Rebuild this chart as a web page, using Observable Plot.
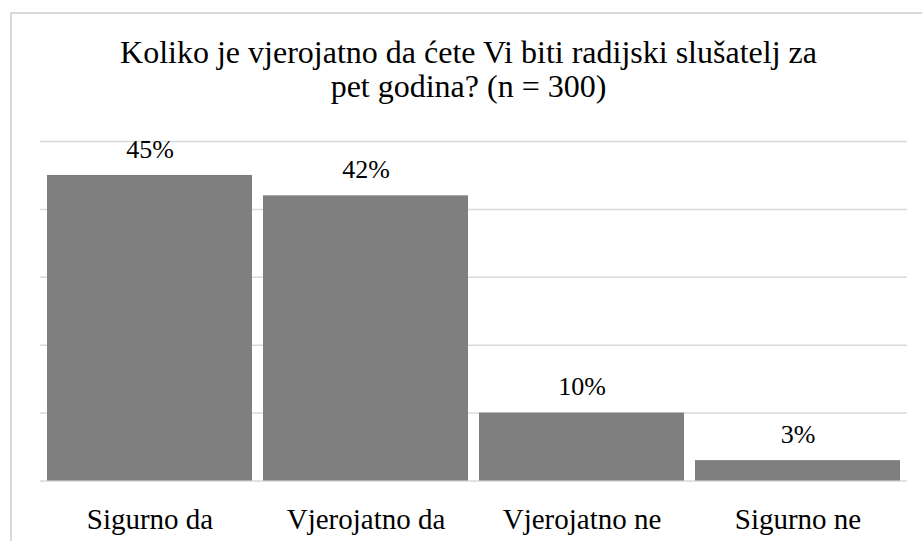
<!DOCTYPE html>
<html>
<head>
<meta charset="utf-8">
<script src="https://cdn.jsdelivr.net/npm/d3@7"></script>
<script src="https://cdn.jsdelivr.net/npm/@observablehq/plot@0.6"></script>
</head>
<body style="margin:0;padding:0;background:#fff;overflow:hidden;">
<div id="border" style="position:absolute;left:10px;top:12px;width:920px;height:535px;border-left:2px solid #d9d9d9;border-top:2px solid #d9d9d9;box-sizing:border-box;"></div>
<div id="title" style="position:relative;box-sizing:border-box;padding-top:34.7px;padding-left:15px;width:922px;height:106px;text-align:center;font-family:'Liberation Serif';font-size:32px;line-height:34px;color:#000;">Koliko je vjerojatno da ćete Vi biti radijski slušatelj za<br>pet godina? (n = 300)</div>
<div id="chart" style="position:relative;"></div>
<script>
const categories = ["Sigurno da", "Vjerojatno da", "Vjerojatno ne", "Sigurno ne"];
const values = [45, 42, 10, 3];
const gridTicks = [0, 10, 20, 30, 40, 50];

const data = categories.map((c, i) => ({category: c, value: values[i], label: values[i] + "%"}));

const plot = Plot.plot({
  width: 922,
  height: 435,
  marginTop: 35,
  marginBottom: 60.5,
  marginLeft: 40,
  marginRight: 15,
  style: {fontFamily: "Liberation Serif", fontSize: "26px", color: "#000", background: "transparent"},
  x: {domain: categories, paddingInner: 0.053, paddingOuter: 0.0265, label: null},
  y: {domain: [0, 50], axis: null},
  marks: [
    Plot.ruleY(gridTicks, {stroke: "#d9d9d9", strokeWidth: 1.5, strokeOpacity: 1}),
    Plot.barY(data, {x: "category", y: "value", fill: "#7f7f7f"}),
    Plot.text(data, {x: "category", y: "value", text: "label", dy: -26, fontSize: 26, fill: "#000"}),
    Plot.axisX({tickSize: 0, tickPadding: 27, fontSize: 29, label: null, fill: "#000"})
  ]
});
document.getElementById("chart").appendChild(plot);
</script>
</body>
</html>
